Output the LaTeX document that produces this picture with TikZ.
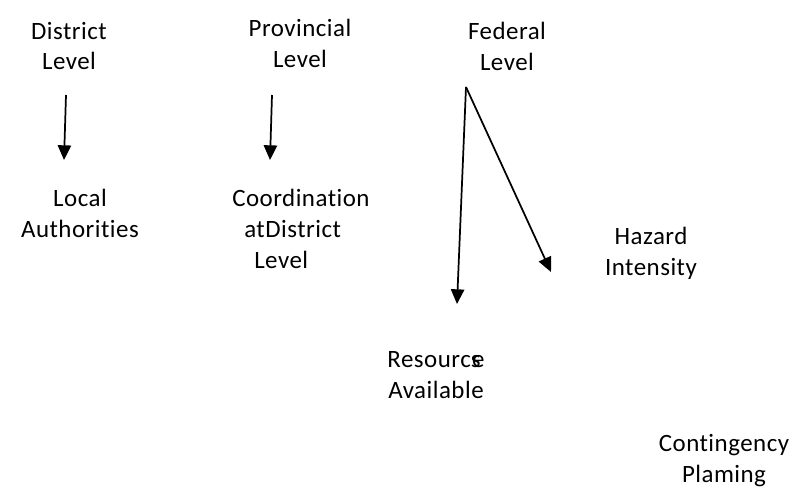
\documentclass[tikz,border=0pt]{standalone}
\usepackage{fontspec}
\setmainfont[Ligatures=NoCommon,LetterSpace=2]{Carlito}
\usetikzlibrary{arrows.meta}

\begin{document}
\begin{tikzpicture}[x=0.75pt,y=-0.75pt]
    \tikzset{nivel/.style = {align=center,inner sep=0pt,font=\fontsize{18.7}{23.2}\selectfont}}
    \tikzset{flecha/.style = {-{Triangle[length=11pt,width=10pt]},line width=1.3pt}}

    \useasboundingbox (0,0) rectangle (793,489);

    \node[nivel] (distrito) at (69,46) {District\\Level};
    \node[nivel] (provincia) at (300,43) {Provincial\\Level};
    \node[nivel] (federal) at (507,46) {Federal\\Level};

    \node[nivel] (local) at (80,213) {Local\\Authorities};
    \node[nivel,align=left,anchor=west] (coordinacion) at (232,229)
        {Coordination\\\hspace{9pt}atDistrict\\\hspace{16.5pt}Level};
    \node[nivel] (amenaza) at (651,253) {Hazard\\Intensity};
    \node[nivel] (recursos) at (436,375) {Resourc\rlap{s}\kern1pt e\\Available};
    \node[nivel] (contingencia) at (724,461) {Contingency\\Plaming};

    \coordinate (d1) at (66,95);
    \coordinate (d2) at (64,160);
    \coordinate (p1) at (272,95);
    \coordinate (p2) at (270,160);
    \coordinate (f0) at (466,87);
    \coordinate (f1) at (457,304);
    \coordinate (f2) at (551,272);

    \draw [flecha] (d1) -- (d2);
    \draw [flecha] (p1) -- (p2);
    \draw [flecha] (f0) -- (f1);
    \draw [flecha] (f0) -- (f2);
\end{tikzpicture}
\end{document}
